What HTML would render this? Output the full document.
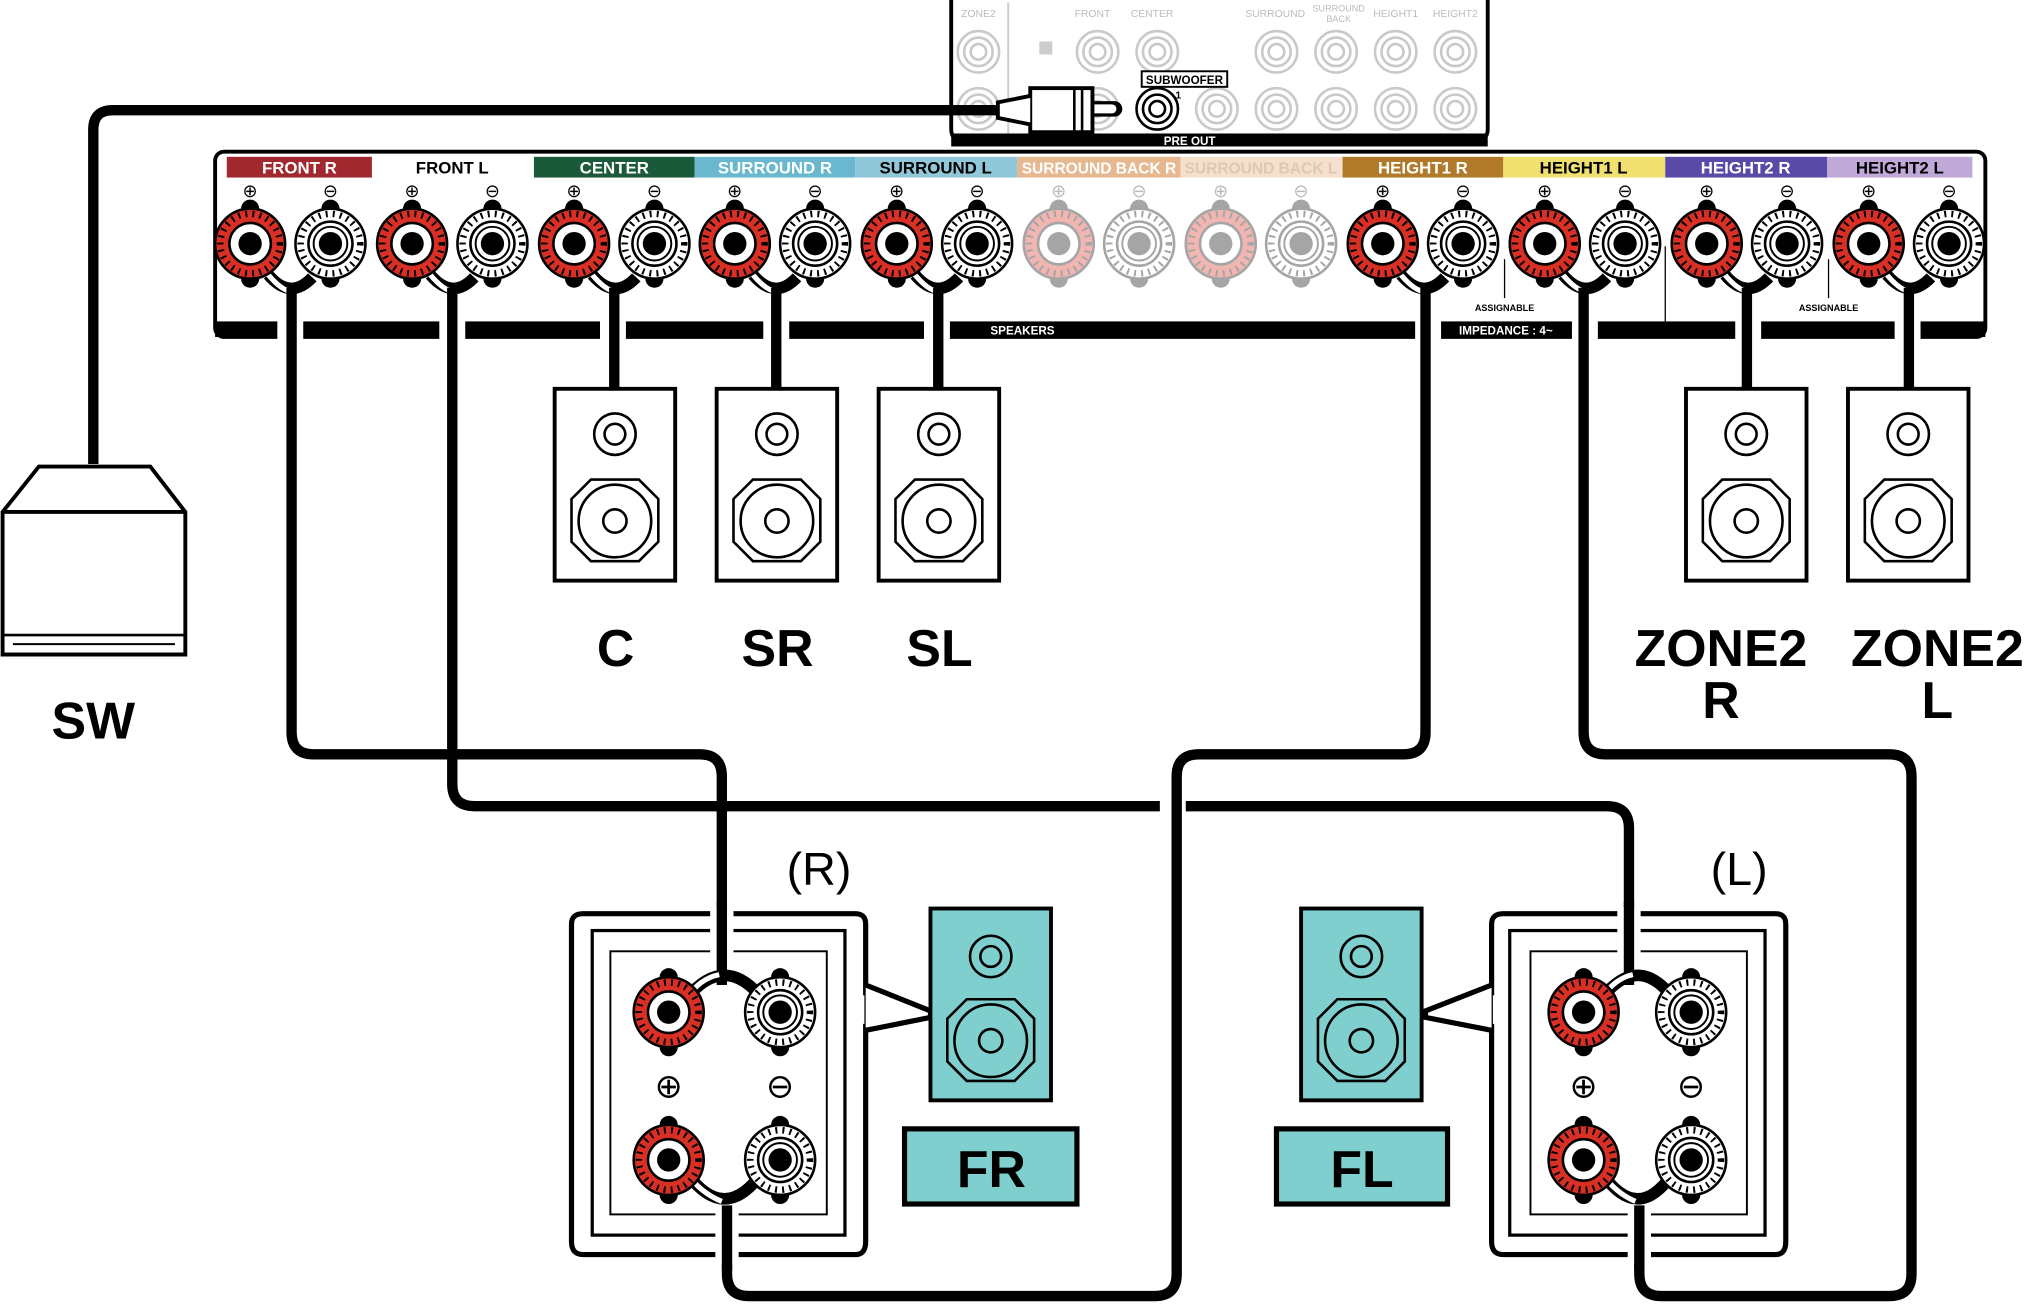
<!DOCTYPE html>
<html><head><meta charset="utf-8"><style>
html,body{margin:0;padding:0;background:#fff;}
svg{display:block;}
text{font-family:"Liberation Sans",sans-serif;}
</style></head><body>
<svg width="2032" height="1309" viewBox="0 0 1568 1010" preserveAspectRatio="none" xmlns="http://www.w3.org/2000/svg">
<defs>
<g id="tr">
<circle cx="0" cy="-27" r="7" fill="#000"/><circle cx="0" cy="27" r="7" fill="#000"/>
<circle r="27" fill="#d93025" stroke="#000" stroke-width="2"/>
<circle r="23" fill="none" stroke="#000" stroke-width="5" stroke-dasharray="1.5 4"/>
<circle r="16" fill="#fff" stroke="#000" stroke-width="2"/>
<circle r="9" fill="#000"/>
</g>
<g id="tw">
<circle cx="0" cy="-27" r="7" fill="#000"/><circle cx="0" cy="27" r="7" fill="#000"/>
<circle r="27" fill="#fff" stroke="#000" stroke-width="2"/>
<circle r="23" fill="none" stroke="#000" stroke-width="5" stroke-dasharray="1.5 4"/>
<circle r="17" fill="#fff" stroke="#000" stroke-width="2"/>
<circle r="13" fill="#fff" stroke="#000" stroke-width="1.5"/>
<circle r="9" fill="#000"/>
</g>
<g id="pair">
<path d="M14,24 Q31,44 48,26" fill="none" stroke="#000" stroke-width="9"/>
<path d="M14,24 Q24,36 32,37" fill="none" stroke="#fff" stroke-width="4"/>
<use href="#tr"/><use href="#tw" x="62"/>
</g>
<g id="spk">
<rect x="0" y="0" width="93" height="148" fill="#fff" stroke="#000" stroke-width="3"/>
<circle cx="46.5" cy="35" r="16" fill="none" stroke="#000" stroke-width="2"/>
<circle cx="46.5" cy="35" r="8" fill="none" stroke="#000" stroke-width="2"/>
<path d="M28,70 L65,70 L80,85 L80,118 L65,133 L28,133 L13,118 L13,85 Z" fill="none" stroke="#000" stroke-width="2"/>
<circle cx="46.5" cy="102" r="28" fill="none" stroke="#000" stroke-width="2"/>
<circle cx="46.5" cy="102" r="9" fill="none" stroke="#000" stroke-width="2"/>
</g>
<g id="spkT">
<rect x="0" y="0" width="93" height="148" fill="#7fcfcf" stroke="#000" stroke-width="3"/>
<circle cx="46.5" cy="37" r="16" fill="none" stroke="#000" stroke-width="2"/>
<circle cx="46.5" cy="37" r="8" fill="none" stroke="#000" stroke-width="2"/>
<path d="M28,70 L65,70 L80,85 L80,118 L65,133 L28,133 L13,118 L13,85 Z" fill="none" stroke="#000" stroke-width="2"/>
<circle cx="46.5" cy="102" r="28" fill="none" stroke="#000" stroke-width="2"/>
<circle cx="46.5" cy="102" r="9" fill="none" stroke="#000" stroke-width="2"/>
</g>
<g id="gj" opacity="0.35">
<circle r="16" fill="#fff" stroke="#666" stroke-width="2"/><circle r="11" fill="none" stroke="#666" stroke-width="2"/><circle r="6" fill="none" stroke="#666" stroke-width="2"/>
</g>
</defs>

<rect x="734" y="-10" width="414" height="120" rx="10" fill="#fff" stroke="#000" stroke-width="3"/>
<rect x="734" y="103" width="414" height="10" fill="#000"/>
<text x="918" y="112" font-size="9" font-weight="bold" fill="#fff" text-anchor="middle">PRE OUT</text>
<line x1="778" y1="2" x2="778" y2="103" stroke="#ccc" stroke-width="1.5"/>
<g font-size="8" fill="#bbb" text-anchor="middle">
<text x="755" y="13">ZONE2</text><text x="843" y="13">FRONT</text><text x="889" y="13">CENTER</text>
<text x="984" y="13">SURROUND</text><text x="1033" y="9" font-size="7">SURROUND</text><text x="1033" y="17" font-size="7">BACK</text>
<text x="1077" y="13">HEIGHT1</text><text x="1123" y="13">HEIGHT2</text>
</g>
<rect x="802" y="32" width="10" height="10" fill="#ccc"/>
<use href="#gj" x="755" y="40"/><use href="#gj" x="847" y="40"/><use href="#gj" x="893" y="40"/><use href="#gj" x="985" y="40"/><use href="#gj" x="1031" y="40"/><use href="#gj" x="1077" y="40"/><use href="#gj" x="1123" y="40"/>
<use href="#gj" x="755" y="84"/><use href="#gj" x="847" y="84"/><use href="#gj" x="939" y="84"/><use href="#gj" x="985" y="84"/><use href="#gj" x="1031" y="84"/><use href="#gj" x="1077" y="84"/><use href="#gj" x="1123" y="84"/>
<rect x="881" y="55" width="66" height="12" fill="#fff" stroke="#000" stroke-width="1.5"/>
<text x="914" y="65" font-size="9" font-weight="bold" text-anchor="middle">SUBWOOFER</text>
<circle cx="893" cy="84" r="16" fill="#fff" stroke="#000" stroke-width="2"/><circle cx="893" cy="84" r="11" fill="none" stroke="#000" stroke-width="2"/><circle cx="893" cy="84" r="6" fill="none" stroke="#000" stroke-width="2"/>
<text x="907" y="76" font-size="8" font-weight="bold">1</text>
<path d="M820,84 L860,84" stroke="#000" stroke-width="12" stroke-linecap="round"/>
<path d="M820,84 L858,84" stroke="#fff" stroke-width="7" stroke-linecap="round"/>
<rect x="795" y="68" width="48" height="34" fill="#fff" stroke="#000" stroke-width="3"/>
<line x1="829" y1="68" x2="829" y2="102" stroke="#000" stroke-width="2"/><line x1="835" y1="68" x2="835" y2="102" stroke="#000" stroke-width="2"/>
<path d="M795,74 L770,79 L770,91 L795,96" fill="#fff" stroke="#000" stroke-width="3"/>

<rect x="166" y="117" width="1366" height="143" rx="7" fill="#fff" stroke="#000" stroke-width="3"/>
<rect x="166" y="248" width="1366" height="12" fill="#000"/>
<g fill="#fff">
<rect x="214" y="246" width="20" height="16"/><rect x="339" y="246" width="20" height="16"/>
<rect x="1092" y="246" width="20" height="16"/><rect x="1213" y="246" width="20" height="16"/>
<rect x="1339" y="246" width="20" height="16"/><rect x="1462" y="246" width="20" height="16"/>
<rect x="463" y="246" width="20" height="16"/><rect x="589" y="246" width="20" height="16"/><rect x="713" y="246" width="20" height="16"/>
</g>
<text x="789" y="258" font-size="9" font-weight="bold" fill="#fff" text-anchor="middle">SPEAKERS</text>
<text x="1162" y="258" font-size="9" font-weight="bold" fill="#fff" text-anchor="middle">IMPEDANCE : 4~</text>
<text x="1161" y="240" font-size="7" font-weight="bold" text-anchor="middle">ASSIGNABLE</text>
<text x="1411" y="240" font-size="7" font-weight="bold" text-anchor="middle">ASSIGNABLE</text>
<line x1="1161" y1="200" x2="1161" y2="230" stroke="#000" stroke-width="1"/>
<line x1="1285" y1="190" x2="1285" y2="248" stroke="#000" stroke-width="1"/>
<line x1="1411" y1="200" x2="1411" y2="230" stroke="#000" stroke-width="1"/>
<g font-size="13" font-weight="bold" text-anchor="middle">
<rect x="175" y="121" width="112" height="16" fill="#a0282e"/><text x="231" y="134" fill="#fff">FRONT R</text>
<text x="349" y="134">FRONT L</text>
<rect x="412" y="121" width="124" height="16" fill="#1a5a3a"/><text x="474" y="134" fill="#fff">CENTER</text>
<rect x="536" y="121" width="124" height="16" fill="#6ab8d0"/><text x="598" y="134" fill="#fff">SURROUND R</text>
<rect x="660" y="121" width="125" height="16" fill="#90c8da"/><text x="722" y="134">SURROUND L</text>
<rect x="785" y="121" width="126" height="16" fill="#e6b890"/><text x="848" y="134" fill="#fff" font-size="12">SURROUND BACK R</text>
<rect x="911" y="121" width="125" height="16" fill="#f4e0cc"/><text x="973" y="134" fill="#e0c8b0" font-size="12">SURROUND BACK L</text>
<rect x="1036" y="121" width="124" height="16" fill="#b07a2a"/><text x="1098" y="134" fill="#fff">HEIGHT1 R</text>
<rect x="1160" y="121" width="125" height="16" fill="#f0e070"/><text x="1222" y="134">HEIGHT1 L</text>
<rect x="1285" y="121" width="125" height="16" fill="#5a4aa8"/><text x="1347" y="134" fill="#fff">HEIGHT2 R</text>
<rect x="1410" y="121" width="112" height="16" fill="#c0a8d8"/><text x="1466" y="134">HEIGHT2 L</text>
</g>
<g font-size="14" text-anchor="middle">
<text x="193" y="152">⊕</text><text x="255" y="152">⊖</text><text x="318" y="152">⊕</text><text x="380" y="152">⊖</text>
<text x="443" y="152">⊕</text><text x="505" y="152">⊖</text><text x="567" y="152">⊕</text><text x="629" y="152">⊖</text>
<text x="692" y="152">⊕</text><text x="754" y="152">⊖</text>
<text x="817" y="152" fill="#bbb">⊕</text><text x="879" y="152" fill="#bbb">⊖</text><text x="942" y="152" fill="#bbb">⊕</text><text x="1004" y="152" fill="#bbb">⊖</text>
<text x="1067" y="152">⊕</text><text x="1129" y="152">⊖</text><text x="1192" y="152">⊕</text><text x="1254" y="152">⊖</text>
<text x="1317" y="152">⊕</text><text x="1379" y="152">⊖</text><text x="1442" y="152">⊕</text><text x="1504" y="152">⊖</text>
</g>
<use href="#pair" x="193" y="188"/><use href="#pair" x="318" y="188"/><use href="#pair" x="443" y="188"/>
<use href="#pair" x="567" y="188"/><use href="#pair" x="692" y="188"/>
<g opacity="0.35"><use href="#tr" x="817" y="188"/><use href="#tw" x="879" y="188"/><use href="#tr" x="942" y="188"/><use href="#tw" x="1004" y="188"/></g>
<use href="#pair" x="1067" y="188"/><use href="#pair" x="1192" y="188"/><use href="#pair" x="1317" y="188"/><use href="#pair" x="1442" y="188"/>

<g fill="none" stroke="#000" stroke-width="8" stroke-linejoin="round">
<path d="M72,358 L72,100 Q72,85 87,85 L770,85"/>
<line x1="474" y1="222" x2="474" y2="300"/><line x1="599" y1="222" x2="599" y2="300"/><line x1="724" y1="222" x2="724" y2="300"/>
<line x1="1348" y1="222" x2="1348" y2="300"/><line x1="1473" y1="222" x2="1473" y2="300"/>
<path d="M225,222 L225,565 Q225,582 242,582 L540,582 Q557,582 557,599 L557,700"/>
<path d="M349,222 L349,605 Q349,622 366,622 L895,622"/>
<path d="M915,622 L1240,622 Q1257,622 1257,639 L1257,700"/>
<path d="M1100,222 L1100,565 Q1100,582 1083,582 L925,582 Q908,582 908,599 L908,983 Q908,1000 891,1000 L578,1000 Q561,1000 561,983 L561,975"/>
<path d="M1222,222 L1222,565 Q1222,582 1239,582 L1458,582 Q1475,582 1475,599 L1475,983 Q1475,1000 1458,1000 L1282,1000 Q1265,1000 1265,983 L1265,975"/>
</g>

<use href="#spk" x="428" y="300"/><use href="#spk" x="553" y="300"/><use href="#spk" x="678" y="300"/>
<use href="#spk" x="1301" y="300"/><use href="#spk" x="1426" y="300"/>
<g font-size="40" font-weight="bold" text-anchor="middle">
<text x="475" y="514">C</text><text x="600" y="514">SR</text><text x="725" y="514">SL</text>
<text x="1328" y="514">ZONE2</text><text x="1328" y="554">R</text>
<text x="1495" y="514">ZONE2</text><text x="1495" y="554">L</text>
<text x="72" y="570">SW</text>
</g>

<path d="M2,395 L30,360 L116,360 L143,395 L143,505 L2,505 Z" fill="#fff" stroke="#000" stroke-width="3"/>
<line x1="2" y1="395" x2="143" y2="395" stroke="#000" stroke-width="3"/>
<line x1="2" y1="490" x2="143" y2="490" stroke="#000" stroke-width="2"/>
<line x1="10" y1="497" x2="135" y2="497" stroke="#000" stroke-width="1.5"/>

<text x="632" y="683" font-size="36" text-anchor="middle">(R)</text>
<path d="M450,705 L660,705 Q668,705 668,713 L668,958 Q668,968 660,968 L450,968 Q441,968 441,958 L441,713 Q441,705 450,705 Z" fill="#fff" stroke="#000" stroke-width="4"/>
<rect x="457" y="718" width="195" height="235" fill="none" stroke="#000" stroke-width="2.5"/>
<rect x="471" y="734" width="167" height="203" fill="none" stroke="#000" stroke-width="1.5"/>
<path d="M668,760 L718,780 L718,785 L668,795" fill="#fff" stroke="#000" stroke-width="4"/>
<path d="M664,768 L664,790" stroke="#fff" stroke-width="6"/>
<rect x="548" y="700" width="18" height="40" fill="#fff"/>
<rect x="552" y="930" width="18" height="45" fill="#fff"/>
<g fill="none" stroke="#000" stroke-width="8"><line x1="557" y1="696" x2="557" y2="760"/><line x1="561" y1="930" x2="561" y2="980"/></g>
<path d="M530,770 Q559,735 588,770" fill="none" stroke="#000" stroke-width="9"/>
<path d="M530,770 Q540,755 555,752" fill="none" stroke="#fff" stroke-width="4"/>
<path d="M530,905 Q559,945 588,905" fill="none" stroke="#000" stroke-width="9"/>
<path d="M530,905 Q540,920 557,927" fill="none" stroke="#fff" stroke-width="4"/>
<use href="#tr" x="516" y="781"/><use href="#tw" x="602" y="781"/><use href="#tr" x="516" y="895"/><use href="#tw" x="602" y="895"/>
<g font-size="26" text-anchor="middle"><text x="516" y="847">⊕</text><text x="602" y="847">⊖</text></g>
<use href="#spkT" x="718" y="701"/>
<rect x="698" y="871" width="133" height="58" fill="#7fcfcf" stroke="#000" stroke-width="4"/>
<text x="765" y="916" font-size="40" font-weight="bold" text-anchor="middle">FR</text>

<text x="1342" y="683" font-size="36" text-anchor="middle">(L)</text>
<path d="M1160,705 L1370,705 Q1378,705 1378,713 L1378,958 Q1378,968 1370,968 L1160,968 Q1151,968 1151,958 L1151,713 Q1151,705 1160,705 Z" fill="#fff" stroke="#000" stroke-width="4"/>
<rect x="1165" y="718" width="197" height="235" fill="none" stroke="#000" stroke-width="2.5"/>
<rect x="1181" y="734" width="167" height="203" fill="none" stroke="#000" stroke-width="1.5"/>
<path d="M1151,760 L1100,780 L1100,785 L1151,795" fill="#fff" stroke="#000" stroke-width="4"/>
<path d="M1155,768 L1155,790" stroke="#fff" stroke-width="6"/>
<rect x="1248" y="700" width="18" height="40" fill="#fff"/>
<rect x="1256" y="930" width="18" height="45" fill="#fff"/>
<g fill="none" stroke="#000" stroke-width="8"><line x1="1257" y1="696" x2="1257" y2="760"/><line x1="1265" y1="930" x2="1265" y2="980"/></g>
<path d="M1236,770 Q1264,735 1291,770" fill="none" stroke="#000" stroke-width="9"/>
<path d="M1236,770 Q1246,755 1260,752" fill="none" stroke="#fff" stroke-width="4"/>
<path d="M1236,905 Q1264,945 1291,905" fill="none" stroke="#000" stroke-width="9"/>
<path d="M1236,905 Q1246,920 1262,927" fill="none" stroke="#fff" stroke-width="4"/>
<use href="#tr" x="1222" y="781"/><use href="#tw" x="1305" y="781"/><use href="#tr" x="1222" y="895"/><use href="#tw" x="1305" y="895"/>
<g font-size="26" text-anchor="middle"><text x="1222" y="847">⊕</text><text x="1305" y="847">⊖</text></g>
<use href="#spkT" x="1004" y="701"/>
<rect x="985" y="871" width="132" height="58" fill="#7fcfcf" stroke="#000" stroke-width="4"/>
<text x="1051" y="916" font-size="40" font-weight="bold" text-anchor="middle">FL</text>
</svg>
</body></html>
